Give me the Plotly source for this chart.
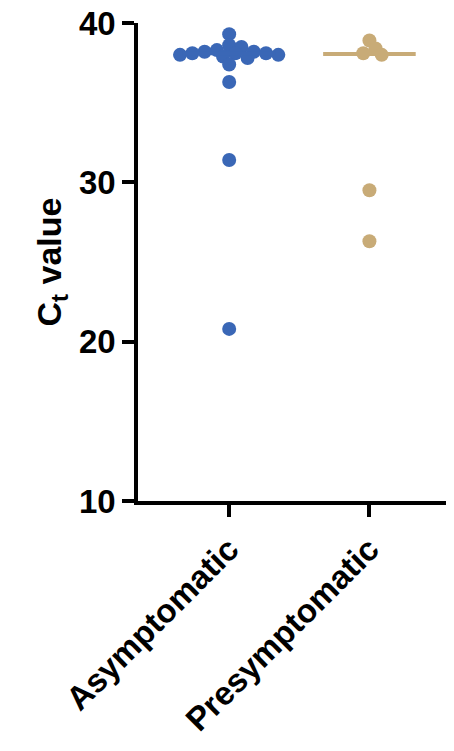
import numpy as np
import plotly.graph_objects as go

grupos = ["Asymptomatic", "Presymptomatic"]
asintomatico = [39.3, 38.6, 38.5, 38.3, 38.2, 38.2, 38.1, 38.1, 38.1, 38.0, 38.0, 37.9, 37.8, 37.4, 36.3, 31.4, 20.8]
presintomatico = [38.9, 38.4, 38.1, 38.0, 29.5, 26.3]
colores = ["#3a67b6", "#c8ab77"]

# escala en pixeles para el swarm
px_x = 137.0
px_y = 15.93
diam = 14.0
paso = 6.0


def swarm(vals):
    # coloca cada punto lo mas cerca del centro sin solaparse demasiado
    puestos = []
    offs = []
    for v in vals:
        k = 0
        while True:
            for cand in ([0] if k == 0 else [k, -k]):
                ok = True
                for (ox, oy) in puestos:
                    if np.hypot(cand * paso - ox, (v - oy) * px_y) < diam * 0.62:
                        ok = False
                        break
                if ok:
                    break
            if ok:
                break
            k += 1
        puestos.append((cand * paso, v))
        offs.append(cand * paso / px_x)
    return offs


fig = go.Figure()
for i, (vals, col) in enumerate(zip([asintomatico, presintomatico], colores)):
    offs = swarm(vals)
    fig.add_trace(go.Scatter(x=[i + o for o in offs], y=vals, mode="markers",
                             marker=dict(color=col, size=14), showlegend=False, cliponaxis=False))
    med = float(np.median(vals))
    fig.add_trace(go.Scatter(x=[i - 0.33, i + 0.33], y=[med, med], mode="lines",
                             line=dict(color=col, width=4), showlegend=False))

tick_font = dict(family="Arial, Liberation Sans", size=33, color="black")
fig.update_layout(
    width=454, height=751, plot_bgcolor="white", paper_bgcolor="white",
    margin=dict(l=130, r=0, t=15, b=258),
    font=dict(family="Arial, Liberation Sans", color="black"),
    xaxis=dict(range=[-0.65, 1.66], tickvals=[0, 1], automargin=False,
               ticktext=["<b>" + g + "</b>" for g in grupos], tickangle=-45, tickfont=tick_font,
               showline=True, linecolor="black", linewidth=3.5, ticks="outside",
               ticklen=12, tickwidth=3.5, tickcolor="black", showgrid=False, zeroline=False),
    yaxis=dict(range=[10, 40], tickvals=[10, 20, 30, 40], automargin=False,
               ticklabeloverflow="allow",
               ticktext=["<b>10</b>", "<b>20</b>", "<b>30</b>", "<b>40</b>"], tickfont=tick_font,
               showline=True, linecolor="black", linewidth=3.5, ticks="outside",
               ticklen=12, tickwidth=3.5, tickcolor="black", showgrid=False, zeroline=False,
               title=dict(text="<b>C<sub>t</sub> value</b>", font=dict(size=34), standoff=8)),
)
fig.write_html("out.html")
